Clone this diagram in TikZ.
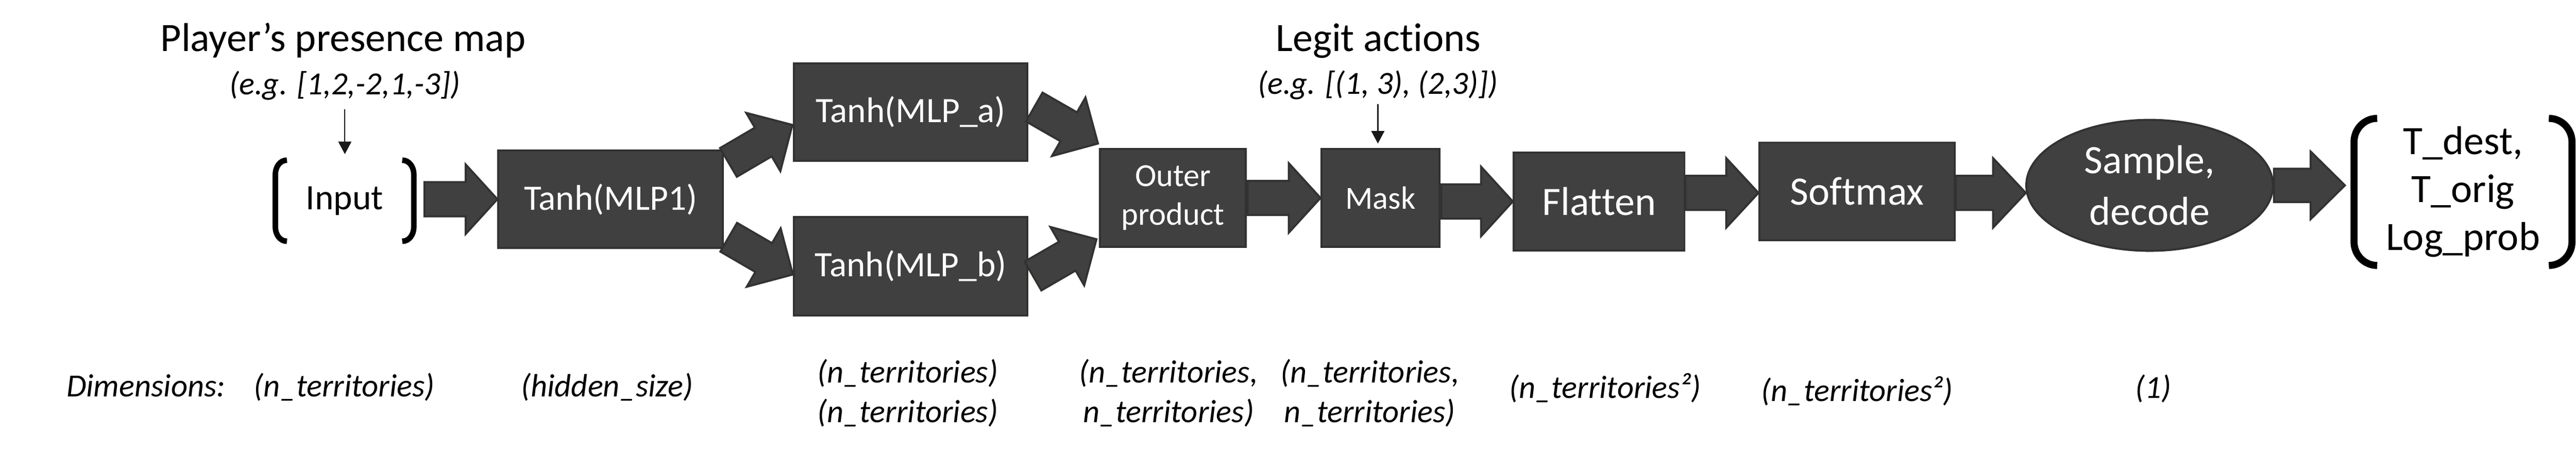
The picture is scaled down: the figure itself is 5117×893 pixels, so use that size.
\documentclass[tikz,border=0pt]{standalone}
\usepackage{fontspec}
\setmainfont{Carlito}[Ligatures={NoCommon}]
\usetikzlibrary{calc,shapes.geometric,arrows.meta}
\definecolor{boxfill}{HTML}{404040}
\definecolor{boxline}{HTML}{333230}
\newcommand{\blockarr}[5]{%
  \path ($(#2)!#5!(#1)$) coordinate (hb);
  \draw[blockarrow] ($(#1)!#3!90:(#2)$) -- ($(hb)!#3!90:(#2)$) -- ($(hb)!#4!90:(#2)$) -- (#2) -- ($(hb)!#4!-90:(#2)$) -- ($(hb)!#3!-90:(#2)$) -- ($(#1)!#3!-90:(#2)$) -- cycle;}
\tikzset{
  box/.style={rectangle, fill=boxfill, draw=boxline, line width=0.8pt, text=white, inner sep=0pt, align=center, font=\fontsize{14.2}{17}\selectfont},
  blockarrow/.style={fill=boxfill, draw=boxline, line width=0.8pt, line join=miter},
  brk/.style={line width=2.2pt, black, line cap=butt},
  brkb/.style={line width=2.8pt, black, line cap=butt},
  ptr/.style={-{Triangle[length=5pt,width=5.2pt]}, line width=0.45pt, black!90},
  title/.style={font=\fontsize{16}{19}\selectfont, anchor=base, inner sep=0pt},
  example/.style={font=\itshape\fontsize{12.8}{15.4}\selectfont, anchor=base, inner sep=0pt},
  dim/.style={font=\itshape\fontsize{12.8}{15.8}\selectfont, align=center, inner sep=0pt},
}
\begin{document}
\begin{tikzpicture}[x=0.2pt,y=-0.2pt]
\useasboundingbox (0,0) rectangle (5117,893);
\fill[white] (0,0) rectangle (5117,893);

% boxes
\node[box, minimum width=89.2pt, minimum height=38.6pt] (mlp1) at (1213,395.5) {Tanh(MLP1)};
\node[box, minimum width=92.8pt, minimum height=38.6pt] (mlpa) at (1809,222.5) {Tanh(MLP\_a)};
\node[box, minimum width=92.8pt, minimum height=39pt] (mlpb) at (1809,528.5) {Tanh(MLP\_b)};
\node[box, minimum width=58pt, minimum height=38.8pt, font=\fontsize{12.8}{15.4}\selectfont] (outer) at (2330,393) {Outer\\product};
\node[box, minimum width=46.8pt, minimum height=38.8pt, font=\fontsize{12.8}{15.4}\selectfont] (mask) at (2742,393) {Mask};
\node[box, minimum width=67.8pt, minimum height=38.8pt, font=\fontsize{16}{19}\selectfont] (flatten) at (3176.5,400) {Flatten};
\node[box, minimum width=77.6pt, minimum height=38.8pt, font=\fontsize{16}{19}\selectfont] (softmax) at (3689,380) {Softmax};
\node[box, ellipse, minimum width=98pt, minimum height=52pt, font=\fontsize{16}{20.6}\selectfont] (sample) at (4270,368) {Sample,\\decode};

% input with brackets
\node[inner sep=0pt, minimum width=54.6pt, minimum height=31.8pt, font=\fontsize{14.2}{17}\selectfont] (input) at (684.5,398.5) {Input};
\draw[brk] ([xshift=4.6pt]input.north west) to[out=180,in=90] ([yshift=-5.6pt]input.north west) -- ([yshift=5.6pt]input.south west) to[out=-90,in=180] ([xshift=4.6pt]input.south west);
\draw[brk] ([xshift=-4.6pt]input.north east) to[out=0,in=90] ([yshift=-5.6pt]input.north east) -- ([yshift=5.6pt]input.south east) to[out=-90,in=0] ([xshift=-4.6pt]input.south east);

% output with brackets
\node[inner sep=0pt, minimum width=86.2pt, minimum height=58pt, align=center, font=\fontsize{16}{19}\selectfont] (outp) at (4892.5,381) {T\_dest,\\T\_orig\\Log\_prob};
\draw[brkb] ([xshift=9.2pt]outp.north west) to[out=180,in=90] ([yshift=-9.4pt]outp.north west) -- ([yshift=9.4pt]outp.south west) to[out=-90,in=180] ([xshift=9.2pt]outp.south west);
\draw[brkb] ([xshift=-9.2pt]outp.north east) to[out=0,in=90] ([yshift=-9.4pt]outp.north east) -- ([yshift=9.4pt]outp.south east) to[out=-90,in=0] ([xshift=-9.2pt]outp.south east);

% titles
\node[title] (t1) at (681.5,102) {Player’s presence map};
\node[example] (eg1) at (685,188) {(e.g. [1,2,-2,1,-3])};
\draw[ptr] ([yshift=-3.4pt]eg1.south) -- ([yshift=2.4pt]eg1.south |- input.north);
\node[title] (t2) at (2738,102) {Legit actions};
\node[example] (eg2) at (2737,187) {(e.g. [(1, 3), (2,3)])};
\draw[ptr] ([yshift=-1.6pt]eg2.south) -- ([yshift=1.8pt]eg2.south |- mask.north);

% diagonal block arrows
\coordinate (a1t) at ($(mlp1.north east)+(9,25.5)$);
\coordinate (a1h) at ($(mlpa.west)+(-1,25.5)$);
\blockarr{a1t}{a1h}{6.6pt}{13.4pt}{13.4pt}
\coordinate (a2t) at ($(mlp1.south east)+(9.5,-23)$);
\coordinate (a2h) at ($(mlpb.west)+(0,16.5)$);
\blockarr{a2t}{a2h}{6.6pt}{13.4pt}{13.4pt}
\coordinate (a3t) at ($(mlpa.east)+(11.5,-10)$);
\coordinate (a3h) at ($(outer.north west)+(-2,-9)$);
\blockarr{a3t}{a3h}{6.6pt}{13.4pt}{13.4pt}
\coordinate (a4t) at ($(mlpb.east)+(9,19.5)$);
\coordinate (a4h) at ($(outer.south west)+(-5,-17)$);
\blockarr{a4t}{a4h}{6.6pt}{13.4pt}{13.4pt}

% horizontal block arrows
\coordinate (h1t) at ($(input.east |- mlp1.west)+(21,0)$);
\blockarr{h1t}{mlp1.west}{6.8pt}{13.8pt}{12.6pt}
\coordinate (h2t) at ($(outer.east)+(1,0)$);
\blockarr{h2t}{mask.west}{6.8pt}{13.8pt}{12.6pt}
\coordinate (h3t) at ($(mask.east |- flatten.west)+(2,0)$);
\blockarr{h3t}{flatten.west}{6.8pt}{13.8pt}{12.6pt}
\coordinate (h4t) at ($(flatten.east |- softmax.west)+(0,3)$);
\coordinate (h4h) at ($(softmax.west)+(0,3)$);
\blockarr{h4t}{h4h}{6.8pt}{13.8pt}{12.8pt}
\coordinate (h5t) at ($(softmax.east)+(0,3)$);
\coordinate (h5h) at ($(sample.west |- h5t)+(1,0)$);
\blockarr{h5t}{h5h}{6.8pt}{13.8pt}{13pt}
\coordinate (h6t) at (sample.east);
\coordinate (h6h) at ($(outp.west |- sample.east)+(-18,0)$);
\blockarr{h6t}{h6h}{6.6pt}{13.4pt}{13.6pt}

% dimensions
\node[dim, anchor=base] (dlabel) at (290,788) {Dimensions:};
\node[dim, anchor=base] (d1) at (684,788) {(n\_territories)};
\node[dim, anchor=base] (d2) at (1206,788) {(hidden\_size)};
\node[dim] (d3) at (1803,780) {(n\_territories)\\(n\_territories)};
\node[dim] (d4) at (2321,780) {(n\_territories,\\n\_territories)};
\node[dim] (d5) at (2721,780) {(n\_territories,\\n\_territories)};
\node[dim, anchor=base] (d6) at (3188,791) {(n\_territories²)};
\node[dim, anchor=base] (d7) at (3689,797) {(n\_territories²)};
\node[dim, anchor=base] (d8) at (4277,791) {(1)};
\end{tikzpicture}
\end{document}
